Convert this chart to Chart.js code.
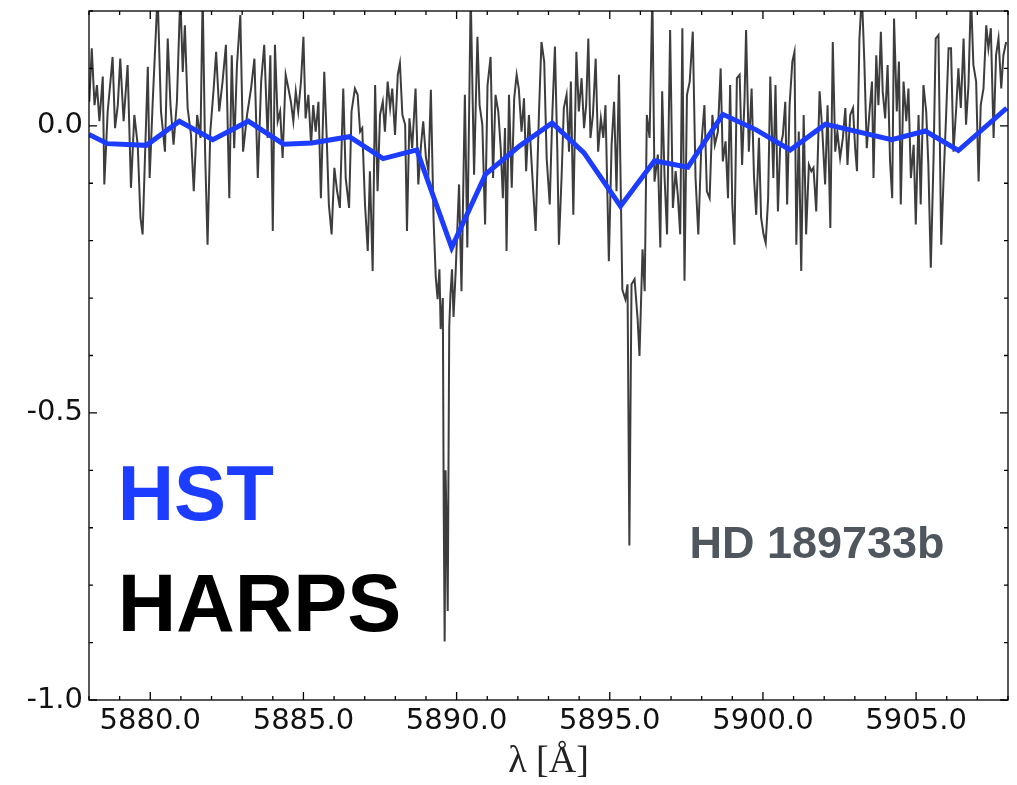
<!DOCTYPE html>
<html>
<head>
<meta charset="utf-8">
<script src="https://cdn.jsdelivr.net/npm/chart.js@4.4.1/dist/chart.umd.min.js"></script>
<style>
  html, body { margin: 0; padding: 0; background: #fff; }
  #wrap { width: 1017px; height: 785px; }
</style>
</head>
<body>
<div id="wrap"><canvas id="chart" width="1017" height="785"></canvas></div>
<script>
// HST binned transit depth (blue)
const hstWave = [5878.0, 5878.6, 5879.87, 5880.95, 5882.04, 5883.2, 5884.35, 5885.27, 5886.5, 5887.6, 5888.7, 5889.84, 5890.95, 5892.03, 5893.12, 5894.16, 5895.35, 5896.46, 5897.55, 5898.69, 5899.78, 5900.89, 5902.04, 5904.2, 5905.3, 5906.38, 5907.96];
const hstFlux = [-0.015, -0.031, -0.034, 0.008, -0.024, 0.008, -0.032, -0.030, -0.019, -0.057, -0.042, -0.212, -0.084, -0.036, 0.005, -0.047, -0.140, -0.061, -0.072, 0.020, -0.007, -0.042, 0.003, -0.024, -0.009, -0.043, 0.031];

// HARPS spectrum (grey)
const harpsWave = [
  5878.01, 5878.09, 5878.18, 5878.26, 5878.34, 5878.45, 5878.50, 5878.61, 5878.70, 5878.77,
  5878.85, 5878.94, 5879.02, 5879.13, 5879.26, 5879.37, 5879.48, 5879.59, 5879.68, 5879.75,
  5879.83, 5879.92, 5879.98, 5880.08, 5880.24, 5880.35, 5880.48, 5880.57, 5880.66, 5880.76,
  5880.87, 5880.98, 5881.06, 5881.13, 5881.22, 5881.33, 5881.42, 5881.53, 5881.64, 5881.71,
  5881.79, 5881.87, 5881.96, 5882.07, 5882.15, 5882.25, 5882.36, 5882.47, 5882.58, 5882.66,
  5882.74, 5882.83, 5882.94, 5883.03, 5883.16, 5883.29, 5883.40, 5883.51, 5883.62, 5883.72,
  5883.83, 5883.92, 5884.00,
  5884.07, 5884.16, 5884.24, 5884.32, 5884.42, 5884.51, 5884.59, 5884.67, 5884.75, 5884.83,
  5884.92, 5885.00, 5885.07, 5885.16, 5885.25, 5885.32, 5885.40, 5885.49, 5885.57, 5885.68,
  5885.76, 5885.83, 5885.92, 5886.01, 5886.10, 5886.19, 5886.30, 5886.38, 5886.49, 5886.57,
  5886.68, 5886.77, 5886.85, 5886.92, 5887.01, 5887.10, 5887.17, 5887.26, 5887.34, 5887.42,
  5887.50, 5887.59, 5887.66, 5887.75, 5887.83, 5887.90, 5887.99, 5888.08, 5888.15, 5888.23,
  5888.32, 5888.38, 5888.46, 5888.55, 5888.66, 5888.75, 5888.84, 5888.91, 5889.00, 5889.08,
  5889.16, 5889.25, 5889.32, 5889.38, 5889.44, 5889.48, 5889.55, 5889.58, 5889.61, 5889.64,
  5889.67, 5889.71, 5889.76, 5889.80, 5889.85, 5889.90, 5889.97,
  5890.08, 5890.16, 5890.27, 5890.35, 5890.46, 5890.57, 5890.68, 5890.75, 5890.84, 5890.93,
  5891.01, 5891.11, 5891.19, 5891.27, 5891.36, 5891.44, 5891.51, 5891.58, 5891.63, 5891.71,
  5891.80, 5891.88, 5891.96, 5892.03, 5892.12, 5892.20, 5892.27, 5892.36, 5892.47, 5892.58,
  5892.69, 5892.77, 5892.86, 5892.94, 5893.04, 5893.12, 5893.21, 5893.29, 5893.34, 5893.43,
  5893.50, 5893.59, 5893.67, 5893.73, 5893.81, 5893.91, 5893.99, 5894.08, 5894.16, 5894.23,
  5894.30, 5894.37, 5894.45, 5894.54, 5894.62, 5894.71, 5894.79, 5894.86, 5894.97, 5895.06,
  5895.14, 5895.22, 5895.30, 5895.41, 5895.51, 5895.58, 5895.64, 5895.71, 5895.81, 5895.91,
  5895.97, 5896.07, 5896.14,
  5896.21, 5896.30, 5896.39, 5896.46, 5896.57, 5896.65, 5896.71, 5896.79, 5896.87, 5896.97,
  5897.06, 5897.15, 5897.22, 5897.30, 5897.37, 5897.44, 5897.52, 5897.61, 5897.71, 5897.80,
  5897.89, 5897.99, 5898.09, 5898.17, 5898.26, 5898.35, 5898.43, 5898.53, 5898.62, 5898.69,
  5898.78, 5898.86, 5898.93, 5899.00, 5899.07, 5899.15, 5899.24, 5899.32, 5899.40, 5899.45,
  5899.54, 5899.63, 5899.71, 5899.78, 5899.87, 5899.94, 5900.02, 5900.09, 5900.17, 5900.24,
  5900.34, 5900.41, 5900.49, 5900.56, 5900.65, 5900.73, 5900.79, 5900.87, 5900.96, 5901.03,
  5901.09, 5901.17, 5901.25, 5901.33, 5901.41, 5901.50, 5901.58, 5901.65, 5901.74, 5901.85,
  5901.94,
  5902.03, 5902.11, 5902.20, 5902.28, 5902.36, 5902.43, 5902.52, 5902.61, 5902.69, 5902.76,
  5902.85, 5902.94, 5903.01, 5903.07, 5903.15, 5903.23, 5903.31, 5903.39, 5903.48, 5903.56,
  5903.61, 5903.70, 5903.77, 5903.85, 5903.91, 5903.99, 5904.07, 5904.15, 5904.22, 5904.28,
  5904.37, 5904.44, 5904.50, 5904.59, 5904.68, 5904.75, 5904.83, 5904.92, 5904.99, 5905.08,
  5905.15, 5905.24, 5905.33, 5905.40, 5905.48, 5905.57, 5905.64, 5905.73, 5905.82, 5905.89,
  5905.98, 5906.06, 5906.14, 5906.22, 5906.31, 5906.38, 5906.46, 5906.55, 5906.63, 5906.71,
  5906.79, 5906.87, 5906.96, 5907.04, 5907.11, 5907.20, 5907.29, 5907.36, 5907.44, 5907.53,
  5907.61, 5907.69, 5907.78, 5907.85, 5907.94
];
const harpsFlux = [
  0.042, 0.135, 0.036, 0.071, 0.008, 0.086, -0.102, 0.025, 0.077, 0.120,
  -0.004, 0.036, 0.117, 0.008, 0.106, -0.108, 0.019, -0.033, -0.160, -0.189,
  -0.050, 0.103, -0.091, 0.042, 0.230, 0.025, -0.045, 0.152, 0.036, -0.033,
  0.042, 0.230, 0.094, 0.175, 0.031, -0.016, -0.114, 0.019, -0.021, 0.230,
  -0.045, -0.207, -0.010, 0.065, 0.129, 0.025, 0.077, 0.141, -0.126, 0.123,
  -0.039, 0.106, 0.193, -0.045, 0.019, 0.065, 0.117, -0.091, 0.077, 0.141,
  -0.021, 0.123, -0.183,
  0.141, 0.008, 0.025, -0.056, 0.089, 0.065, 0.042, 0.008, 0.060, 0.025,
  0.077, 0.155, 0.013, 0.054, -0.033, 0.036, -0.010, 0.042, -0.126, 0.094,
  -0.021, -0.137, -0.189, -0.073, -0.114, -0.143, 0.065, -0.091, -0.143, 0.025,
  0.065, 0.054, -0.010, -0.004, -0.137, -0.218, -0.079, -0.253, 0.071, -0.114,
  0.019, 0.042, -0.010, 0.077, 0.031, 0.065, -0.016, 0.089, 0.109, 0.019,
  0.002, -0.183, 0.013, -0.039, 0.065, -0.102, -0.033, 0.008, -0.056, -0.079,
  0.063, -0.166, -0.264, -0.302, -0.250, -0.354, -0.300, -0.667, -0.898, -0.600,
  -0.684, -0.845, -0.350, -0.293, -0.250, -0.333, -0.253,
  -0.102, -0.288, 0.054, -0.212, 0.230, -0.085, 0.155, 0.036, 0.002, -0.172,
  0.071, 0.120, -0.091, 0.054, 0.025, -0.039, -0.126, -0.004, -0.218, 0.054,
  -0.108, 0.048, 0.089, 0.065, -0.010, 0.048, -0.079, 0.019, -0.085, -0.183,
  0.025, 0.146, 0.112, -0.056, -0.137, 0.013, 0.138, -0.050, -0.207, -0.085,
  0.031, 0.054, -0.045, 0.077, -0.155, 0.129, 0.025, 0.083, -0.004, 0.036,
  0.152, -0.021, 0.019, 0.117, -0.045, 0.013, -0.021, 0.036, -0.236, -0.033,
  0.042, -0.114, 0.089, -0.285, -0.302, -0.276, -0.731, -0.276, -0.267, -0.337,
  -0.401, -0.215, -0.288,
  0.019, -0.021, 0.230, -0.097, -0.050, -0.212, 0.060, -0.091, -0.189, 0.167,
  -0.143, -0.079, -0.120, -0.189, 0.170, -0.270, 0.054, 0.077, 0.164, -0.091,
  -0.189, -0.033, 0.036, -0.114, -0.126, 0.019, -0.033, -0.010, 0.100, -0.062,
  -0.027, -0.126, 0.071, -0.137, -0.207, 0.083, 0.089, -0.068, 0.048, 0.167,
  -0.045, 0.065, -0.091, -0.155, -0.021, -0.160, -0.189, -0.204, -0.126, 0.086,
  -0.091, 0.071, -0.149, -0.039, -0.016, 0.042, -0.137, 0.036, 0.112, 0.129,
  -0.207, -0.010, -0.253, 0.019, -0.189, -0.068, -0.079, -0.073, -0.149, 0.060,
  -0.010,
  -0.102, 0.036, -0.178, 0.146, -0.045, -0.010, -0.056, -0.021, 0.031, -0.068,
  0.019, 0.031, -0.039, -0.079, 0.152, 0.230, 0.112, -0.039, 0.025, 0.077,
  -0.091, 0.123, 0.036, 0.164, 0.060, 0.013, 0.106, -0.062, -0.126, 0.187,
  0.025, 0.112, -0.137, 0.077, 0.008, 0.065, -0.091, -0.033, -0.172, 0.019,
  -0.137, 0.071, 0.025, -0.068, -0.247, -0.056, 0.152, 0.158, -0.207, -0.102,
  0.019, 0.135, 0.135, -0.045, 0.031, 0.100, 0.031, 0.152, 0.002, 0.071,
  0.230, 0.106, 0.077, -0.097, 0.036, 0.065, 0.175, 0.135, 0.170, -0.021,
  0.123, 0.152, 0.065, 0.123, 0.146
];

const xTicks = [5880, 5885, 5890, 5895, 5900, 5905];
const yTicks = [-1.0, -0.5, 0.0];

const labels = [
  { text: "HST", x: 5878.94, y: -0.686, color: "#1c3cff", font: "bold 78px 'Liberation Sans', Arial, sans-serif" },
  { text: "HARPS", x: 5878.94, y: -0.880, color: "#000000", font: "bold 81px 'Liberation Sans', Arial, sans-serif" },
  { text: "HD 189733b", x: 5897.6, y: -0.753, color: "#4f565e", font: "bold 45px 'Liberation Sans', Arial, sans-serif" }
];

const frameTicks = {
  id: "frameTicks",
  afterDraw(chart) {
    const { ctx, chartArea: a, scales: { x, y } } = chart;
    ctx.save();
    ctx.strokeStyle = "#000";
    ctx.lineWidth = 1.3;
    ctx.strokeRect(a.left, a.top, a.right - a.left, a.bottom - a.top);
    ctx.beginPath();
    for (let w = 5878; w <= 5908; w++) {
      const px = x.getPixelForValue(w);
      const len = w % 5 === 0 ? 8 : 4;
      ctx.moveTo(px, a.bottom); ctx.lineTo(px, a.bottom - len);
      ctx.moveTo(px, a.top); ctx.lineTo(px, a.top + len);
    }
    for (let k = -10; k <= 2; k++) {
      const py = y.getPixelForValue(k / 10);
      const len = k % 5 === 0 ? 8 : 4;
      ctx.moveTo(a.left, py); ctx.lineTo(a.left + len, py);
      ctx.moveTo(a.right, py); ctx.lineTo(a.right - len, py);
    }
    ctx.stroke();

    ctx.textAlign = "left";
    ctx.textBaseline = "alphabetic";
    labels.forEach(l => {
      ctx.font = l.font;
      ctx.fillStyle = l.color;
      ctx.fillText(l.text, x.getPixelForValue(l.x), y.getPixelForValue(l.y));
    });
    ctx.restore();
  }
};

Chart.defaults.font.family = "'DejaVu Sans', sans-serif";
Chart.defaults.color = "#111";

new Chart(document.getElementById("chart"), {
  type: "line",
  data: {
    datasets: [
      {
        label: "HST",
        data: hstWave.map((w, i) => ({ x: w, y: hstFlux[i] })),
        borderColor: "#1c3cff",
        borderWidth: 5,
        pointRadius: 0,
        tension: 0,
        clip: 0
      },
      {
        label: "HARPS",
        data: harpsWave.map((w, i) => ({ x: w, y: harpsFlux[i] })),
        borderColor: "rgba(40, 40, 40, 0.9)",
        borderWidth: 2,
        pointRadius: 0,
        tension: 0,
        clip: 0
      }
    ]
  },
  plugins: [frameTicks],
  options: {
    responsive: false,
    animation: false,
    layout: { padding: { top: 11, right: 9, left: 0, bottom: 0 } },
    plugins: { legend: { display: false }, tooltip: { enabled: false } },
    scales: {
      x: {
        type: "linear",
        min: 5878,
        max: 5908,
        afterBuildTicks: s => { s.ticks = xTicks.map(v => ({ value: v })); },
        afterFit: s => { s.height = 85; s.paddingLeft = 0; s.paddingRight = 0; },
        grid: { display: false, drawTicks: false },
        border: { display: false },
        ticks: {
          font: { size: 29 },
          padding: 4,
          maxRotation: 0,
          autoSkip: false,
          callback: v => Number(v).toFixed(1)
        },
        title: {
          display: true,
          text: "λ [Å]",
          font: { family: "'Liberation Serif', 'DejaVu Serif', serif", size: 38 },
          color: "#222",
          padding: { top: 0, bottom: 0 }
        }
      },
      y: {
        min: -1.0,
        max: 0.2,
        afterBuildTicks: s => { s.ticks = yTicks.map(v => ({ value: v })); },
        afterFit: s => { s.width = 89; s.paddingTop = 0; s.paddingBottom = 0; },
        grid: { display: false, drawTicks: false },
        border: { display: false },
        ticks: {
          font: { size: 29 },
          padding: 6,
          callback: v => Number(v).toFixed(1)
        }
      }
    }
  }
});
</script>
</body>
</html>
